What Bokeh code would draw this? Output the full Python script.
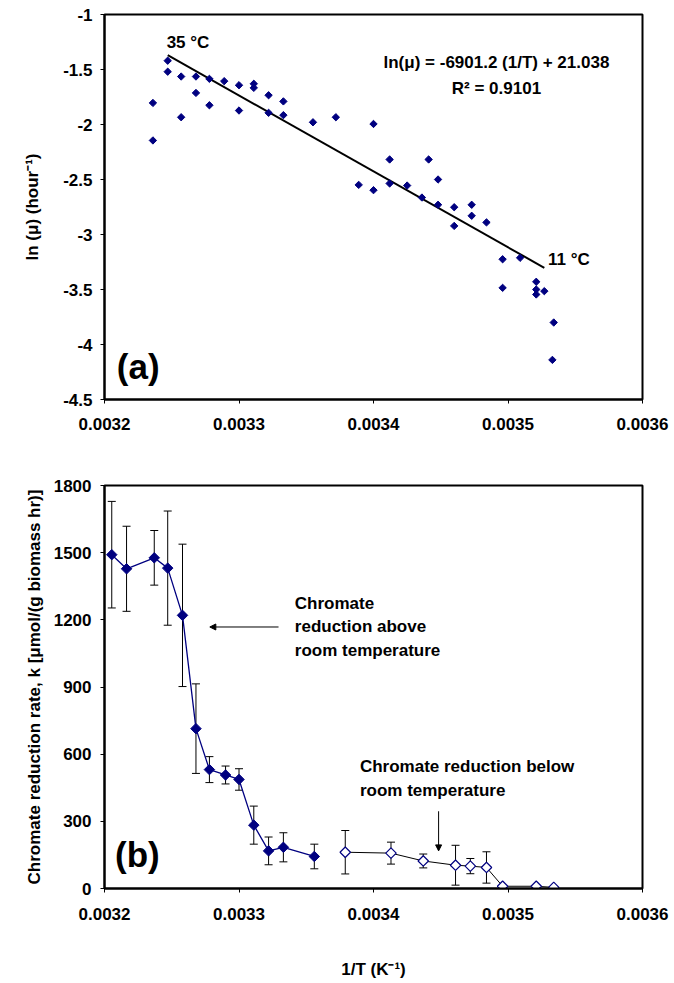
import math
from bokeh.plotting import figure
from bokeh.models import (Range1d, FixedTicker, ColumnDataSource, Whisker, TeeHead,
                          Arrow, NormalHead, Label, NumeralTickFormatter)
from bokeh.layouts import column
from bokeh.embed import file_html
from bokeh.resources import INLINE

FONT = "Liberation Sans"

# ---------------- data: panel (a) ----------------
a_inv_T = [0.003236, 0.003236, 0.003247, 0.003247, 0.003257, 0.003257, 0.003268, 0.003268,
           0.003278, 0.003278, 0.003289, 0.003300, 0.003300, 0.003311, 0.003311, 0.003322,
           0.003322, 0.003333, 0.003333, 0.003355, 0.003372, 0.003400, 0.003389, 0.003400,
           0.003412, 0.003441, 0.003448, 0.003412, 0.003425, 0.003436, 0.003448, 0.003460,
           0.003460, 0.003473, 0.003473, 0.003484, 0.003496, 0.003496, 0.003509, 0.003521,
           0.003521, 0.003521, 0.003527, 0.003534, 0.003533]
a_ln_mu = [-1.804, -2.145, -1.420, -1.520, -1.564, -1.934, -1.564, -1.713,
           -1.585, -1.825, -1.606, -1.643, -1.873, -1.630, -1.667, -1.734,
           -1.894, -1.790, -1.915, -1.980, -1.934, -1.995, -2.549, -2.597,
           -2.318, -2.318, -2.500, -2.536, -2.555, -2.664, -2.730, -2.752,
           -2.922, -2.730, -2.830, -2.890, -3.225, -3.485, -3.212, -3.430,
           -3.500, -3.545, -3.515, -3.800, -4.140]
fit_slope = -6901.2
fit_intercept = 21.038
fit_inv_T = [0.003247, 0.003527]

# ---------------- data: panel (b) ----------------
b_above_inv_T = [0.0032054, 0.0032164, 0.003237, 0.003247, 0.003258, 0.003268, 0.003278,
                 0.003290, 0.003300, 0.003311, 0.003322, 0.003333, 0.003356]
b_above_k = [1491, 1428, 1477, 1431, 1220, 714, 531, 507, 487, 283, 168, 184, 143]
b_above_err = [238, 190, 122, 255, 318, 200, 58, 40, 48, 85, 62, 65, 55]

b_below_inv_T = [0.003379, 0.003413, 0.003437, 0.003461, 0.003472, 0.003484,
                 0.003496, 0.003521, 0.003534]
b_below_k = [162, 158, 123, 104, 100, 94, 10, 10, 5]
b_below_err = [97, 49, 31, 89, 34, 70, 0, 0, 0]

# ---------------- ticks ----------------
x_ticks = [0.0032, 0.0033, 0.0034, 0.0035, 0.0036]
x_tick_labels = ["0.0032", "0.0033", "0.0034", "0.0035", "0.0036"]
a_y_ticks = [-4.5, -4.0, -3.5, -3.0, -2.5, -2.0, -1.5, -1.0]
a_y_tick_labels = ["-4.5", "-4", "-3.5", "-3", "-2.5", "-2", "-1.5", "-1"]
b_y_ticks = [0, 300, 600, 900, 1200, 1500, 1800]
b_y_tick_labels = ["0", "300", "600", "900", "1200", "1500", "1800"]

NAVY = "#000080"
TICK_SIZE = "17px"


def style_axis(ax, ticks, labels, fmt, standoff):
    ax.ticker = FixedTicker(ticks=ticks)
    ax.formatter = NumeralTickFormatter(format=fmt)
    ax.major_label_overrides = {t: l for t, l in zip(ticks, labels)}
    ax.axis_line_color = "black"
    ax.axis_line_width = 2
    ax.major_tick_line_color = "black"
    ax.major_tick_line_width = 1
    ax.major_tick_out = 4
    ax.major_tick_in = 0
    ax.minor_tick_line_color = None
    ax.major_label_text_font = FONT
    ax.major_label_text_font_style = "bold"
    ax.major_label_text_font_size = TICK_SIZE
    ax.major_label_text_color = "black"
    ax.major_label_standoff = standoff
    ax.axis_label_text_font = FONT
    ax.axis_label_text_font_style = "bold"
    ax.axis_label_text_font_size = "17px"
    ax.axis_label_text_color = "black"


def base_fig(height, y_range, borders):
    p = figure(width=674, height=height,
               x_range=Range1d(0.0032, 0.0036), y_range=y_range,
               output_backend="svg", toolbar_location=None,
               min_border_left=borders[0], min_border_right=borders[1],
               min_border_top=borders[2], min_border_bottom=borders[3])
    p.xgrid.visible = False
    p.ygrid.visible = False
    p.outline_line_color = "black"
    p.outline_line_width = 2
    p.outline_line_alpha = 1
    p.background_fill_color = "white"
    p.border_fill_color = "white"
    return p


# ================= panel (a) =================
pa = base_fig(448, Range1d(-4.5, -1.0), (100, 32, 14, 49))
style_axis(pa.xaxis[0], x_ticks, x_tick_labels, "0.0000", 14)
style_axis(pa.yaxis[0], a_y_ticks, a_y_tick_labels, "0.[0]", 8)
pa.yaxis[0].axis_label = "ln (μ) (hour⁻¹)"
pa.yaxis[0].axis_label_standoff = 18

fit_ln = [fit_slope * x + fit_intercept for x in fit_inv_T]
pa.line(fit_inv_T, fit_ln, line_color="black", line_width=2)
pa.scatter(a_inv_T, a_ln_mu, marker="square", angle=math.pi / 4, size=5.2,
           fill_color=NAVY, line_color=NAVY)

def lab(p, x, y, text, size="17px", align="left"):
    p.add_layout(Label(x=x, y=y, text=text, text_font=FONT, text_font_style="bold",
                       text_font_size=size, text_align=align, text_baseline="middle",
                       text_color="black"))

lab(pa, 0.0032462, -1.252, "35 °C")
lab(pa, 0.0035298, -3.225, "11 °C")
lab(pa, 0.0034914, -1.434, "ln(μ) = -6901.2 (1/T) + 21.038", align="center")
lab(pa, 0.0034914, -1.673, "R² = 0.9101", align="center")
lab(pa, 0.0032092, -4.204, "(a)", size="35px")

# ================= panel (b) =================
pb = base_fig(535, Range1d(0, 1800), (104, 22, 37, 95))
style_axis(pb.xaxis[0], x_ticks, x_tick_labels, "0.0000", 15)
style_axis(pb.yaxis[0], b_y_ticks, b_y_tick_labels, "0", 9)
pb.xaxis[0].axis_label = "1/T (K⁻¹)"
pb.xaxis[0].axis_label_standoff = 37
pb.yaxis[0].axis_label = "Chromate reduction rate, k [μmol/(g biomass hr)]"
pb.yaxis[0].axis_label_standoff = 7

ex, eu, el = [], [], []
for xs, ks, es in ((b_above_inv_T, b_above_k, b_above_err),
                   (b_below_inv_T, b_below_k, b_below_err)):
    for x, k, e in zip(xs, ks, es):
        if e > 0:
            ex.append(x)
            eu.append(k + e)
            el.append(k - e)
err_src = ColumnDataSource(data=dict(x=ex, upper=eu, lower=el))
pb.add_layout(Whisker(source=err_src, base="x", upper="upper", lower="lower",
                      line_color="black", line_width=1,
                      upper_head=TeeHead(size=8, line_color="black", line_width=1),
                      lower_head=TeeHead(size=8, line_color="black", line_width=1)))

pb.line(b_above_inv_T, b_above_k, line_color=NAVY, line_width=1.3)
pb.scatter(b_above_inv_T, b_above_k, marker="square", angle=math.pi / 4, size=7.4,
           fill_color=NAVY, line_color=NAVY)
pb.line(b_below_inv_T, b_below_k, line_color="black", line_width=1)
pb.scatter(b_below_inv_T, b_below_k, marker="square", angle=math.pi / 4, size=7.4,
           fill_color="white", line_color=NAVY, line_width=1.2)

lab(pb, 0.0033415, 1272, "Chromate")
lab(pb, 0.0033415, 1168, "reduction above")
lab(pb, 0.0033415, 1064, "room temperature")
lab(pb, 0.0033899, 543, "Chromate reduction below")
lab(pb, 0.0033899, 439, "room temperature")
lab(pb, 0.0032078, 153, "(b)", size="35px")

pb.add_layout(Arrow(x_start=0.0033294, y_start=1168, x_end=0.0032783, y_end=1168,
                    line_color="black", line_width=1,
                    end=NormalHead(size=6, fill_color="black", line_color="black")))
pb.add_layout(Arrow(x_start=0.0034484, y_start=345, x_end=0.0034484, y_end=168,
                    line_color="black", line_width=1,
                    end=NormalHead(size=6, fill_color="black", line_color="black")))

layout = column(pa, pb, spacing=0)
open("out.html", "w").write(file_html(layout, INLINE))
